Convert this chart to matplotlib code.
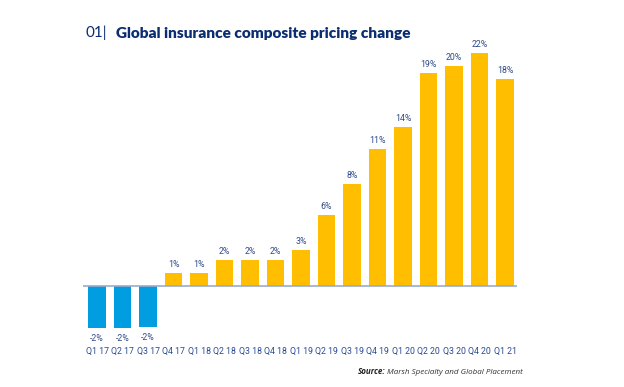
import matplotlib
matplotlib.use("Agg")
import matplotlib.pyplot as plt

# quarter labels and the pricing change shown on each bar
quarters = ["Q1 17", "Q2 17", "Q3 17", "Q4 17", "Q1 18", "Q2 18", "Q3 18", "Q4 18",
            "Q1 19", "Q2 19", "Q3 19", "Q4 19", "Q1 20", "Q2 20", "Q3 20", "Q4 20", "Q1 21"]
labels = [-2, -2, -2, 1, 1, 2, 2, 2, 3, 6, 8, 11, 14, 19, 20, 22, 18]
# bar heights as drawn in the original (not strictly proportional to the labels)
heights = [-4.0, -4.0, -3.85, 1.25, 1.25, 2.45, 2.45, 2.45, 3.4, 6.7, 9.6,
           12.9, 15.0, 20.1, 20.8, 22.0, 19.5]

navy = "#0b2d71"
yellow = "#ffbe00"
blue = "#009de0"

W, H = 624, 387
fig = plt.figure(figsize=(W / 100, H / 100), dpi=100)
# axes placed in pixel terms: left 83, right 517, top 40, bottom 343
ax = fig.add_axes([83 / W, 1 - 343 / H, (517 - 83) / W, (343 - 40) / H])

ppu = 10.6  # pixels per unit
ax.set_ylim(-(343 - 286) / ppu, (286 - 40) / ppu)
ax.set_xlim(-0.55, 16.47)

x = range(len(quarters))
colors = [blue if h < 0 else yellow for h in heights]
ax.bar(x, heights, width=0.67, color=colors, zorder=2)
ax.axhline(0, color="#9aabcc", lw=1.2, zorder=3)

for i, (h, lab) in enumerate(zip(heights, labels)):
    if h >= 0:
        ax.annotate(f"{lab}%", (i, h), xytext=(0, 4), textcoords="offset pixels",
                    ha="center", va="bottom", fontsize=6.3, color="#2f4a8a",
                    family="Roboto")
    else:
        ax.annotate(f"{lab}%", (i, h), xytext=(0, -6), textcoords="offset pixels",
                    ha="center", va="top", fontsize=6.3, color="#2f4a8a",
                    family="Roboto")

ax.set_xticks(list(x))
ax.set_xticklabels(quarters, fontsize=6.3, color="#2a4b94", family="Roboto")
ax.tick_params(axis="x", length=0, pad=3)
ax.set_yticks([])
for s in ax.spines.values():
    s.set_visible(False)

fig.text(86 / W, 1 - 33 / H, "01|", fontsize=11, color=navy, family="Lato",
         fontweight="normal", va="center")
fig.text(116 / W, 1 - 33 / H, "Global insurance composite pricing change", fontsize=11.1,
         color=navy, family="Lato", fontweight="heavy", va="center")

src = fig.text(523 / W, 1 - 372 / H, "Marsh Specialty and Global Placement", fontsize=5.8,
               color="#333333", family="Open Sans", style="italic", ha="right", va="center")
fig.canvas.draw()
bb = src.get_window_extent()
fig.text(bb.x0 / W - 0.003, 1 - 372 / H, "Source:", fontsize=5.8, color="#222222",
         family="Open Sans", style="italic", fontweight="bold", ha="right", va="center")

fig.savefig("out.png", dpi=100)
